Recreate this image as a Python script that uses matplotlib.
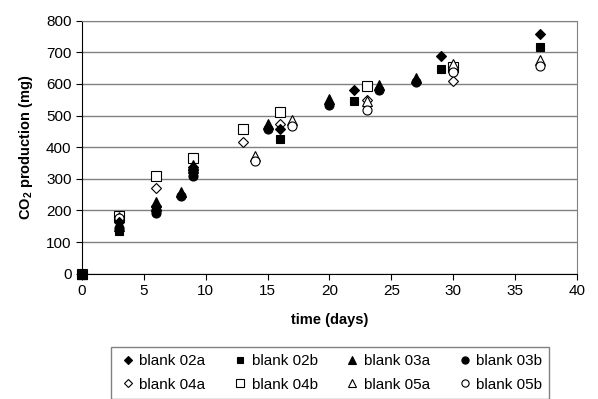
import matplotlib
matplotlib.use('Agg')
import matplotlib.pyplot as plt

plt.rcParams['font.family'] = ['Liberation Sans', 'DejaVu Sans']
plt.rcParams['mathtext.fontset'] = 'custom'
plt.rcParams['mathtext.rm'] = 'Liberation Sans'
plt.rcParams['mathtext.bf'] = 'Liberation Sans:bold'

# days and CO2 production (mg) per blank
t_02 = [0, 3, 6, 9, 16, 22, 29, 37]
v_02a = [0, 165, 215, 338, 458, 580, 690, 757]
v_02b = [0, 135, 205, 318, 426, 545, 647, 718]

t_03 = [0, 3, 6, 8, 9, 15, 20, 24, 27]
v_03a = [0, 150, 228, 260, 345, 475, 552, 598, 618]
v_03b = [0, 145, 192, 247, 310, 457, 535, 580, 605]

t_04 = [0, 3, 6, 9, 13, 16, 23, 30]
v_04a = [0, 178, 272, 330, 418, 472, 550, 608]
v_04b = [0, 182, 308, 366, 458, 511, 593, 655]

t_05 = [0, 3, 6, 9, 14, 17, 23, 30, 37]
v_05a = [0, 180, 215, 335, 372, 485, 545, 662, 676]
v_05b = [0, 175, 200, 325, 357, 466, 518, 638, 657]

labels = ['blank 02a', 'blank 02b', 'blank 03a', 'blank 03b',
          'blank 04a', 'blank 04b', 'blank 05a', 'blank 05b']

fig = plt.figure(figsize=(5.98, 3.99), dpi=100)
ax = fig.add_axes([0.137, 0.314, 0.828, 0.634])

series = [
    (t_02, v_02a, 'D', 'black', 5.5, 4),
    (t_02, v_02b, 's', 'black', 5.5, 4),
    (t_03, v_03a, '^', 'black', 6.5, 4),
    (t_03, v_03b, 'o', 'black', 6.5, 4),
    (t_04, v_04a, 'D', 'white', 5.5, 3),
    (t_04, v_04b, 's', 'white', 6.5, 3),
    (t_05, v_05a, '^', 'white', 6.5, 3),
    (t_05, v_05b, 'o', 'white', 6.5, 3),
]
handles = []
for (t, v, m, fc, ms, z), lab in zip(series, labels):
    h, = ax.plot(t, v, linestyle='none', marker=m, markersize=ms,
                 markerfacecolor=fc, markeredgecolor='black',
                 markeredgewidth=0.8, label=lab, zorder=z, clip_on=False)
    handles.append(h)

ax.set_xlim(0, 40)
ax.set_ylim(0, 800)
ax.set_xticks(range(0, 41, 5))
ax.set_yticks(range(0, 801, 100))
ax.yaxis.grid(True, color='#808080', linewidth=1)
ax.set_axisbelow(True)
ax.spines['top'].set_color('#808080')
ax.spines['right'].set_color('#808080')
ax.tick_params(axis='both', direction='out', length=4, labelsize=11)
ax.set_xlabel('time (days)', fontweight='bold', fontsize=10.5, labelpad=11)
ax.set_ylabel(r'CO$_\mathbf{2}$ production (mg)', fontweight='bold',
              fontsize=10.5, labelpad=8)

order = [0, 4, 1, 5, 2, 6, 3, 7]
leg = fig.legend([handles[i] for i in order], [labels[i] for i in order],
                 ncol=4, loc='upper left', mode='expand',
                 bbox_to_anchor=(0.1856, 0.0, 0.7324, 0.1303),
                 fancybox=False, edgecolor='#606060', fontsize=11,
                 handletextpad=0.1, handlelength=1.3, markerscale=0.8,
                 borderpad=0.45, labelspacing=0.65, borderaxespad=0)
leg.get_frame().set_linewidth(1)

fig.savefig('out.png', dpi=100)
